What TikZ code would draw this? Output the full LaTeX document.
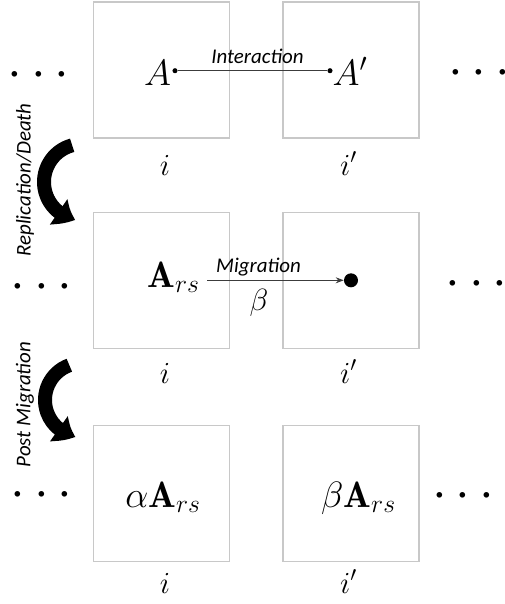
\RequirePackage{fix-cm}
\documentclass[tikz,border=0pt]{standalone}
\usepackage{fontspec}
\newfontfamily\carlito{Carlito}
\usetikzlibrary{arrows.meta,bending}
\definecolor{boxgray}{RGB}{200,200,200}
\definecolor{linegray}{RGB}{60,60,60}
\begin{document}
\begin{tikzpicture}[x=0.75pt,y=-0.75pt,
  cell/.style={draw=boxgray, line width=1.1pt, minimum size=102pt, inner sep=0},
  lbl/.style={font=\carlito\itshape\fontsize{15.7}{18}\selectfont, inner sep=0, anchor=base},
  side/.style={font=\carlito\itshape\fontsize{15.7}{18}\selectfont, inner sep=0, rotate=90},
  bigm/.style={font=\fontsize{27.5}{30}\selectfont, inner sep=0, anchor=base},
  idx/.style={font=\fontsize{23}{26}\selectfont, inner sep=0, anchor=base},
  dotrow/.style={font=\fontsize{39.6}{44}\selectfont, inner sep=0, anchor=base},
  smalldot/.style={circle, fill=black, inner sep=0, minimum size=3.8pt},
  bigdot/.style={circle, fill=black, inner sep=0, minimum size=10.5pt},
  conn/.style={draw=linegray, line width=0.75pt},
  curv/.style={line width=10.5pt, -{Triangle[length=14pt,width=22pt,bend]}}
]
\useasboundingbox (0,0) rectangle (504,604);
% boxes
\node[cell] (b11) at (161.5,70) {};
\node[cell] (b12) at (351,70) {};
\node[cell] (b21) at (161.5,280.5) {};
\node[cell] (b22) at (351,280.5) {};
\node[cell] (b31) at (161.5,493.5) {};
\node[cell] (b32) at (351,493.5) {};
% dots
\node[dotrow] (dl1) at (38.5,87.3) {$\cdots$};
\node[dotrow] (dr1) at (479,85) {$\cdots$};
\node[dotrow] (dl2) at (41.5,299.8) {$\cdots$};
\node[dotrow] (dr2) at (476.5,296.3) {$\cdots$};
\node[dotrow] (dl3) at (41.5,507.3) {$\cdots$};
\node[dotrow] (dr3) at (463,508.3) {$\cdots$};
% row 1
\node[bigm] (A) at (157.5,85) {$A$};
\node[bigm] (Ap) at (350,85) {$A'$};
\node[smalldot] (dA) at (175,70.7) {};
\node[smalldot] (dAp) at (330,70.7) {};
\draw[conn] (dA) -- (dAp);
\node[lbl] (int) at (257.5,63) {Interaction};
\node[idx] (i1) at (165,175) {$i$};
\node[idx] (ip1) at (348.5,175) {$i'$};
% row 2
\node[bigm] (Ars) at (173.5,287) {$\mathbf{A}_{rs}$};
\coordinate (ms) at (207,280.3);
\node[bigdot] (bd) at (351,280.3) {};
\draw[conn,-{Stealth[length=6pt,width=4.5pt]}] (ms) -- (bd.west);
\node[lbl] (mig) at (258.5,272) {Migration};
\node[idx] (beta) at (259,310) {$\beta$};
\node[idx] (i2) at (165,383) {$i$};
\node[idx] (ip2) at (348.5,383) {$i'$};
% row 3
\node[bigm] (aA) at (163,507) {$\alpha\mathbf{A}_{rs}$};
\node[bigm] (bA) at (358.5,507) {$\beta\mathbf{A}_{rs}$};
\node[idx] (i3) at (165,593) {$i$};
\node[idx] (ip3) at (348.5,593) {$i'$};
% side labels
\node[side] (rd) at (25,180) {Replication/Death};
\node[side] (pm) at (25,404.5) {Post Migration};
% curved arrows
\draw[curv] (82,182) ++(255:38) arc (255:100:38);
\draw[curv] (82,400) ++(250:37) arc (250:100:37);
\end{tikzpicture}
\end{document}
